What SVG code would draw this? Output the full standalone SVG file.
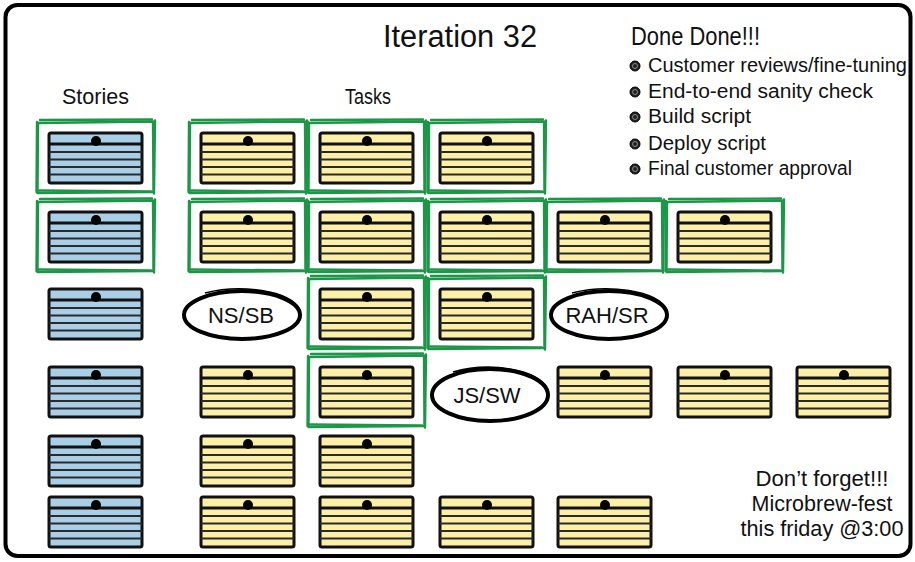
<svg xmlns="http://www.w3.org/2000/svg" xmlns:xlink="http://www.w3.org/1999/xlink" width="915" height="562" viewBox="0 0 915 562">
  <style>
    .hand { font-family: "Liberation Sans", "DejaVu Sans", sans-serif; fill: #111; }
    .board { fill: #fff; stroke: #000; stroke-width: 4; }
    .card { stroke: #111; stroke-width: 3; }
    .story { fill: #a9cfe6; }
    .task { fill: #fcefa8; }
    .rule { stroke: #2a2a2a; stroke-width: 2; }
    .hdr { stroke: #111; stroke-width: 3; }
    .done { fill: none; stroke: #1c9748; stroke-width: 2.4; stroke-linejoin: round; stroke-linecap: round; }
    .owner { fill: none; stroke: #000; stroke-width: 4; }
    .owner2 { fill: none; stroke: #000; stroke-width: 1.6; }
  </style>
  <defs>
    <!-- index card: header band, four ruled lines and a pin -->
    <symbol id="storyCard" viewBox="-2 -2 97 55" width="97" height="55" overflow="visible">
      <rect class="card story" x="0" y="0" width="93" height="50" rx="2"/>
      <line class="rule" x1="0" y1="19" x2="93" y2="19"/>
      <line class="rule" x1="0" y1="26.5" x2="93" y2="26.5"/>
      <line class="rule" x1="0" y1="34" x2="93" y2="34"/>
      <line class="rule" x1="0" y1="41.5" x2="93" y2="41.5"/>
      <line class="hdr" x1="0" y1="11" x2="93" y2="11"/>
      <circle cx="47" cy="8" r="5" fill="#000"/>
    </symbol>
    <symbol id="taskCard" viewBox="-2 -2 97 55" width="97" height="55" overflow="visible">
      <rect class="card task" x="0" y="0" width="93" height="50" rx="2"/>
      <line class="rule" x1="0" y1="19" x2="93" y2="19"/>
      <line class="rule" x1="0" y1="26.5" x2="93" y2="26.5"/>
      <line class="rule" x1="0" y1="34" x2="93" y2="34"/>
      <line class="rule" x1="0" y1="41.5" x2="93" y2="41.5"/>
      <line class="hdr" x1="0" y1="11" x2="93" y2="11"/>
      <circle cx="47" cy="8" r="5" fill="#000"/>
    </symbol>
    <!-- hand-drawn "done" frame, drawn twice with a slight wobble -->
    <symbol id="doneFrame" viewBox="0 0 120 76" width="120" height="76" overflow="visible">
      <path class="done" d="M2,4 L117,2.5 L117.5,73 L1.5,74 Z"/>
      <path class="done" d="M4,1 L116,0.5 M1,3 L0.5,73 M119,1.5 L118,74.5 M3,71.5 L115,72.5"/>
    </symbol>
    <!-- bullet dot -->
    <g id="bullet">
      <circle r="5" fill="#222" stroke="#000" stroke-width="1"/>
      <circle r="2.5" fill="none" stroke="#888" stroke-width="1"/>
    </g>
  </defs>

  <!-- board outline -->
  <rect class="board" x="5.5" y="5" width="905" height="551" rx="12"/>

  <!-- headings -->
  <g id="title">
    <text class="hand" x="383" y="47" font-size="31" textLength="154" lengthAdjust="spacingAndGlyphs">Iteration 32</text>
  </g>
  <g id="heading-stories">
    <text class="hand" x="62" y="104" font-size="22" textLength="67" lengthAdjust="spacingAndGlyphs">Stories</text>
  </g>
  <g id="heading-tasks">
    <text class="hand" x="345" y="104" font-size="22" textLength="46" lengthAdjust="spacingAndGlyphs">Tasks</text>
  </g>

  <!-- definition of done -->
  <g id="done-done">
    <text class="hand" x="631" y="45" font-size="26" textLength="129" lengthAdjust="spacingAndGlyphs">Done Done!!!</text>
    <use href="#bullet" x="635" y="66"/>
    <text class="hand" x="648" y="72" font-size="20" textLength="259" lengthAdjust="spacingAndGlyphs">Customer reviews/fine-tuning</text>
    <use href="#bullet" x="635" y="92"/>
    <text class="hand" x="648" y="98" font-size="20" textLength="225" lengthAdjust="spacingAndGlyphs">End-to-end sanity check</text>
    <use href="#bullet" x="635" y="117"/>
    <text class="hand" x="648" y="123" font-size="20" textLength="103" lengthAdjust="spacingAndGlyphs">Build script</text>
    <use href="#bullet" x="635" y="144"/>
    <text class="hand" x="648" y="150" font-size="20" textLength="118" lengthAdjust="spacingAndGlyphs">Deploy script</text>
    <use href="#bullet" x="635" y="169"/>
    <text class="hand" x="648" y="175" font-size="20" textLength="204" lengthAdjust="spacingAndGlyphs">Final customer approval</text>
  </g>

  <!-- reminder -->
  <g id="reminder">
    <text class="hand" x="822" y="486" font-size="22" text-anchor="middle" textLength="133" lengthAdjust="spacingAndGlyphs">Don’t forget!!!</text>
    <text class="hand" x="822" y="511" font-size="22" text-anchor="middle" textLength="141" lengthAdjust="spacingAndGlyphs">Microbrew-fest</text>
    <text class="hand" x="822" y="536" font-size="22" text-anchor="middle" textLength="163" lengthAdjust="spacingAndGlyphs">this friday @3:00</text>
  </g>

  <!-- "done" frames -->
  <g id="done-frames">
    <use href="#doneFrame" x="36" y="119"/>
    <use href="#doneFrame" x="188" y="119"/>
    <use href="#doneFrame" x="307" y="119"/>
    <use href="#doneFrame" x="427" y="119"/>
    <use href="#doneFrame" x="36" y="198"/>
    <use href="#doneFrame" x="188" y="198"/>
    <use href="#doneFrame" x="307" y="198"/>
    <use href="#doneFrame" x="427" y="198"/>
    <use href="#doneFrame" x="545" y="198"/>
    <use href="#doneFrame" x="665" y="198"/>
    <use href="#doneFrame" x="307" y="275"/>
    <use href="#doneFrame" x="427" y="275"/>
    <use href="#doneFrame" x="307" y="353"/>
  </g>

  <!-- story cards -->
  <g id="story-1"><use href="#storyCard" x="47" y="131"/></g>
  <g id="story-2"><use href="#storyCard" x="47" y="210"/></g>
  <g id="story-3"><use href="#storyCard" x="47" y="287"/></g>
  <g id="story-4"><use href="#storyCard" x="47" y="365"/></g>
  <g id="story-5"><use href="#storyCard" x="47" y="434"/></g>
  <g id="story-6"><use href="#storyCard" x="47" y="495"/></g>

  <!-- task cards, row by row -->
  <g id="task-1-1"><use href="#taskCard" x="199" y="131"/></g>
  <g id="task-1-2"><use href="#taskCard" x="318" y="131"/></g>
  <g id="task-1-3"><use href="#taskCard" x="438" y="131"/></g>

  <g id="task-2-1"><use href="#taskCard" x="199" y="210"/></g>
  <g id="task-2-2"><use href="#taskCard" x="318" y="210"/></g>
  <g id="task-2-3"><use href="#taskCard" x="438" y="210"/></g>
  <g id="task-2-4"><use href="#taskCard" x="556" y="210"/></g>
  <g id="task-2-5"><use href="#taskCard" x="676" y="210"/></g>

  <g id="task-3-2"><use href="#taskCard" x="318" y="287"/></g>
  <g id="task-3-3"><use href="#taskCard" x="438" y="287"/></g>

  <g id="task-4-1"><use href="#taskCard" x="199" y="365"/></g>
  <g id="task-4-2"><use href="#taskCard" x="318" y="365"/></g>
  <g id="task-4-4"><use href="#taskCard" x="556" y="365"/></g>
  <g id="task-4-5"><use href="#taskCard" x="676" y="365"/></g>
  <g id="task-4-6"><use href="#taskCard" x="795" y="365"/></g>

  <g id="task-5-1"><use href="#taskCard" x="199" y="434"/></g>
  <g id="task-5-2"><use href="#taskCard" x="318" y="434"/></g>

  <g id="task-6-1"><use href="#taskCard" x="199" y="495"/></g>
  <g id="task-6-2"><use href="#taskCard" x="318" y="495"/></g>
  <g id="task-6-3"><use href="#taskCard" x="438" y="495"/></g>
  <g id="task-6-4"><use href="#taskCard" x="556" y="495"/></g>

  <!-- pair owners -->
  <g id="owner-ns-sb">
    <ellipse class="owner" cx="242" cy="315" rx="58" ry="24"/>
    <path class="owner2" d="M205,293 C240,284 290,290 300,310"/>
    <text class="hand" x="241" y="323" font-size="22" text-anchor="middle">NS/SB</text>
  </g>
  <g id="owner-rah-sr">
    <ellipse class="owner" cx="609" cy="315" rx="58" ry="24"/>
    <path class="owner2" d="M572,293 C607,284 657,290 667,310"/>
    <text class="hand" x="607" y="323" font-size="22" text-anchor="middle">RAH/SR</text>
  </g>
  <g id="owner-js-sw">
    <ellipse class="owner" cx="490" cy="395" rx="58" ry="26"/>
    <path class="owner2" d="M453,372 C488,362 538,368 548,390"/>
    <text class="hand" x="487" y="403" font-size="22" text-anchor="middle">JS/SW</text>
  </g>

  <g id="connectors"/>
</svg>
